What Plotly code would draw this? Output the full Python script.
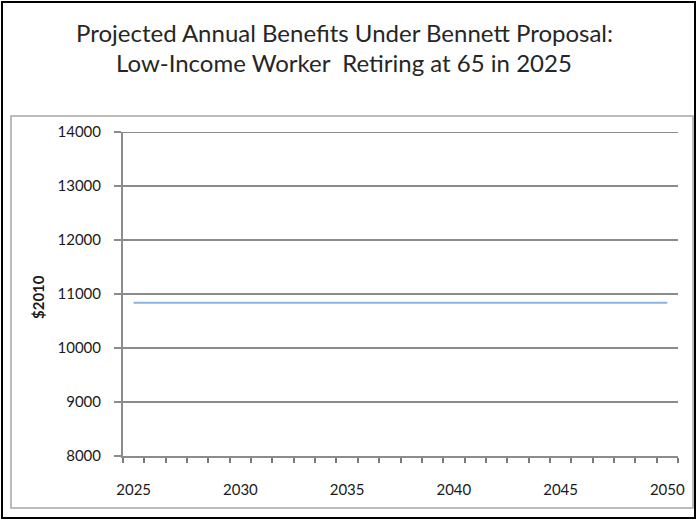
import plotly.graph_objects as go

years = list(range(2025, 2051))
benefits = [10840, 10840, 10840, 10840, 10840, 10840, 10840, 10840, 10840, 10840,
            10840, 10840, 10840, 10840, 10840, 10840, 10840, 10840, 10840, 10840,
            10840, 10840, 10840, 10840, 10840, 10840]
x_tick_vals = [2025, 2030, 2035, 2040, 2045, 2050]
y_tick_vals = [8000, 9000, 10000, 11000, 12000, 13000, 14000]
y_tick_text = [str(v) for v in y_tick_vals]
title_lines = ["Projected Annual Benefits Under Bennett Proposal:",
               "Low-Income Worker  Retiring at 65 in 2025"]
y_title = "$2010"

W, H = 697, 520
L, R, T, B = 123, 678, 132, 456
pw, ph = R - L, B - T

def px(x):
    return (x - L) / pw

def py(y):
    return (B - y) / ph

fig = go.Figure()
fig.add_trace(go.Scatter(x=years, y=benefits, mode="lines",
                         line=dict(color="#8db3e2", width=2), showlegend=False))

font_family = "Lato, 'Open Sans', sans-serif"
grid_col = "#8c8c8c"

fig.update_layout(
    width=W, height=H,
    margin=dict(l=L, r=W - R, t=T, b=H - B),
    paper_bgcolor="white", plot_bgcolor="white",
    font=dict(family=font_family, color="#222222", size=14),
    xaxis=dict(range=[2024.5, 2050.5], tickvals=x_tick_vals, ticks="",
               showgrid=False, zeroline=False, showline=True,
               linecolor=grid_col, linewidth=2,
               tickfont=dict(size=15, color="#1a1a1a"), ticklabelstandoff=19,
               minor=dict(tickmode="linear", tick0=2024.5, dtick=1, ticks="outside",
                          ticklen=5, tickcolor="#7a7a7a", tickwidth=1.5, showgrid=False)),
    yaxis=dict(range=[8000, 14000], tickvals=y_tick_vals, ticktext=y_tick_text,
               ticks="outside", ticklen=7, tickcolor=grid_col, tickwidth=2,
               showgrid=True, gridcolor=grid_col, gridwidth=2,
               zeroline=False, showline=True, linecolor=grid_col, linewidth=2,
               tickfont=dict(size=15, color="#1a1a1a"), ticklabelstandoff=10),
)

# top gridline at the upper range edge (plotly omits it at the boundary)
fig.add_shape(type="line", xref="paper", yref="y", x0=0, x1=1,
              y0=y_tick_vals[-1], y1=y_tick_vals[-1],
              line=dict(color=grid_col, width=2), layer="below")

for i, line in enumerate(title_lines):
    fig.add_annotation(text=line, xref="paper", yref="paper",
                       x=px(344), y=py(33 + 30 * i), xanchor="center", yanchor="middle",
                       showarrow=False,
                       font=dict(size=24, color="#262626", family=font_family))
fig.add_annotation(text="<b>" + y_title + "</b>", xref="paper", yref="paper",
                   x=px(38), y=py(297), xanchor="center", yanchor="middle",
                   showarrow=False, textangle=-90,
                   font=dict(size=15, color="#1a1a1a", family=font_family))

fig.add_shape(type="rect", xref="paper", yref="paper",
              x0=px(11), x1=px(693), y0=py(508), y1=py(116),
              line=dict(color="#a6a6a6", width=1.5), layer="below")
fig.add_shape(type="rect", xref="paper", yref="paper",
              x0=px(2), x1=px(695), y0=py(518), y1=py(2),
              line=dict(color="#000000", width=2), layer="below")

fig.write_html("out.html")
